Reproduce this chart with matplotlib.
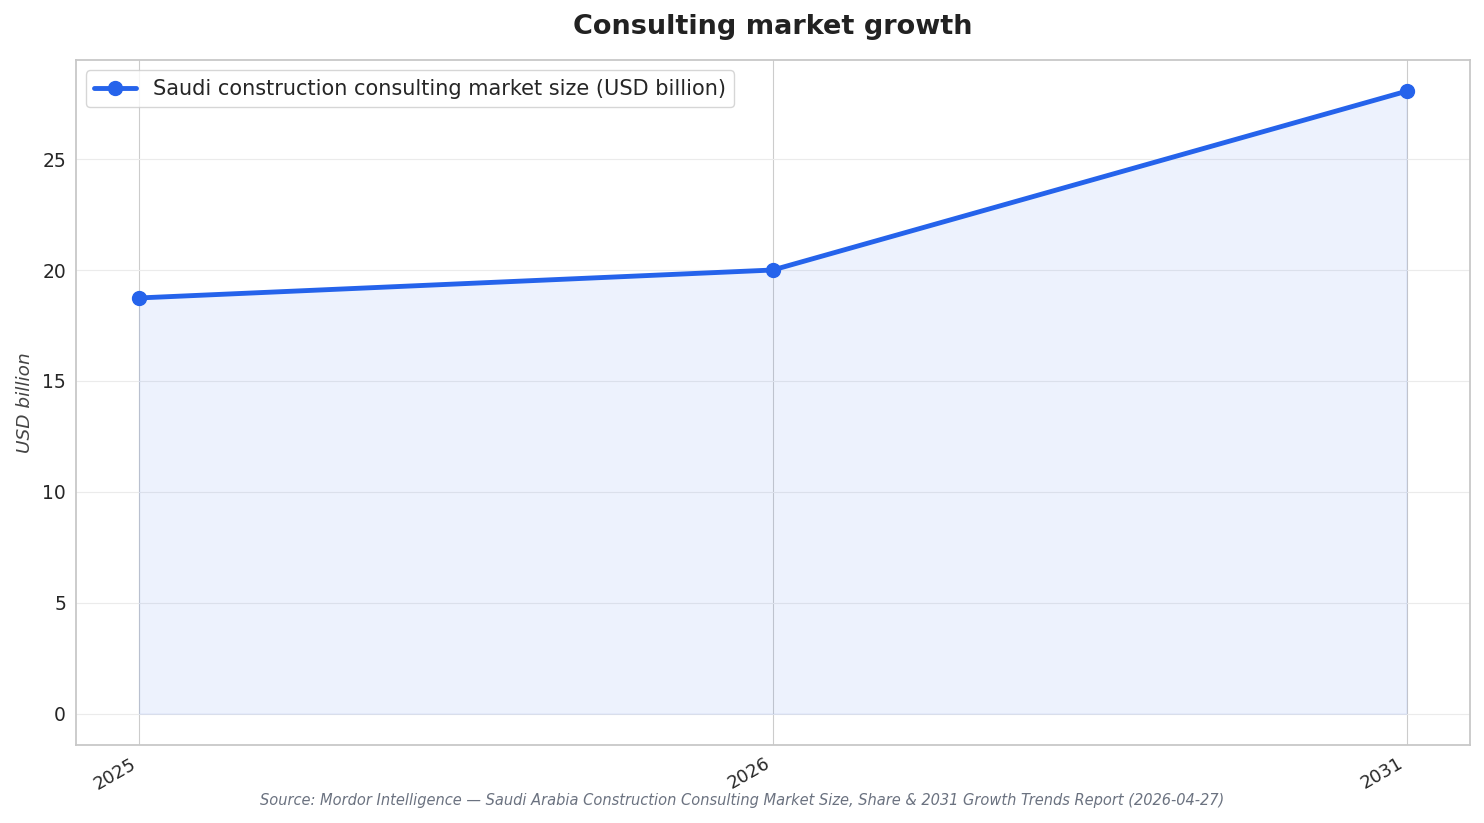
import matplotlib
matplotlib.use("Agg")
import matplotlib.pyplot as plt
import seaborn as sns

years = ["2025", "2026", "2031"]
values = [18.74, 20.0, 28.06]
series_label = "Saudi construction consulting market size (USD billion)"

sns.set_style("whitegrid")
plt.rcParams['font.family'] = ['DejaVu Sans']

fig, ax = plt.subplots(figsize=(14.84, 8.23), dpi=100)
x = list(range(len(years)))
color = "#2563eb"
ax.fill_between(x, values, 0, color=color, alpha=0.08)
ax.plot(x, values, color=color, lw=3.5, marker="o", markersize=10, label=series_label, zorder=3)
ax.set_xticks(x)
ax.set_xticklabels(years, rotation=30, ha="right", fontsize=13)
ax.tick_params(axis="y", labelsize=13.5)
ax.set_ylabel("USD billion", fontsize=13.3, style="italic", color="#444444", labelpad=6)
ax.set_title("Consulting market growth", fontsize=19.5, fontweight="bold", color="#222222", pad=18.5)
ax.grid(axis="y", color="#ebebeb")
ax.grid(axis="x", color="#cccccc")
for s in ax.spines.values():
    s.set_color("#c8c8c8")
    s.set_linewidth(1.3)
ax.legend(loc="upper left", fontsize=15, frameon=True)
fig.text(0.5, 0.022, "Source: Mordor Intelligence — Saudi Arabia Construction Consulting Market Size, Share & 2031 Growth Trends Report (2026-04-27)",
         ha="center", fontsize=10.5, style="italic", color="#6b7280")
fig.subplots_adjust(left=0.051, right=0.9905, top=0.927, bottom=0.095)
fig.savefig("out.png", dpi=100)
